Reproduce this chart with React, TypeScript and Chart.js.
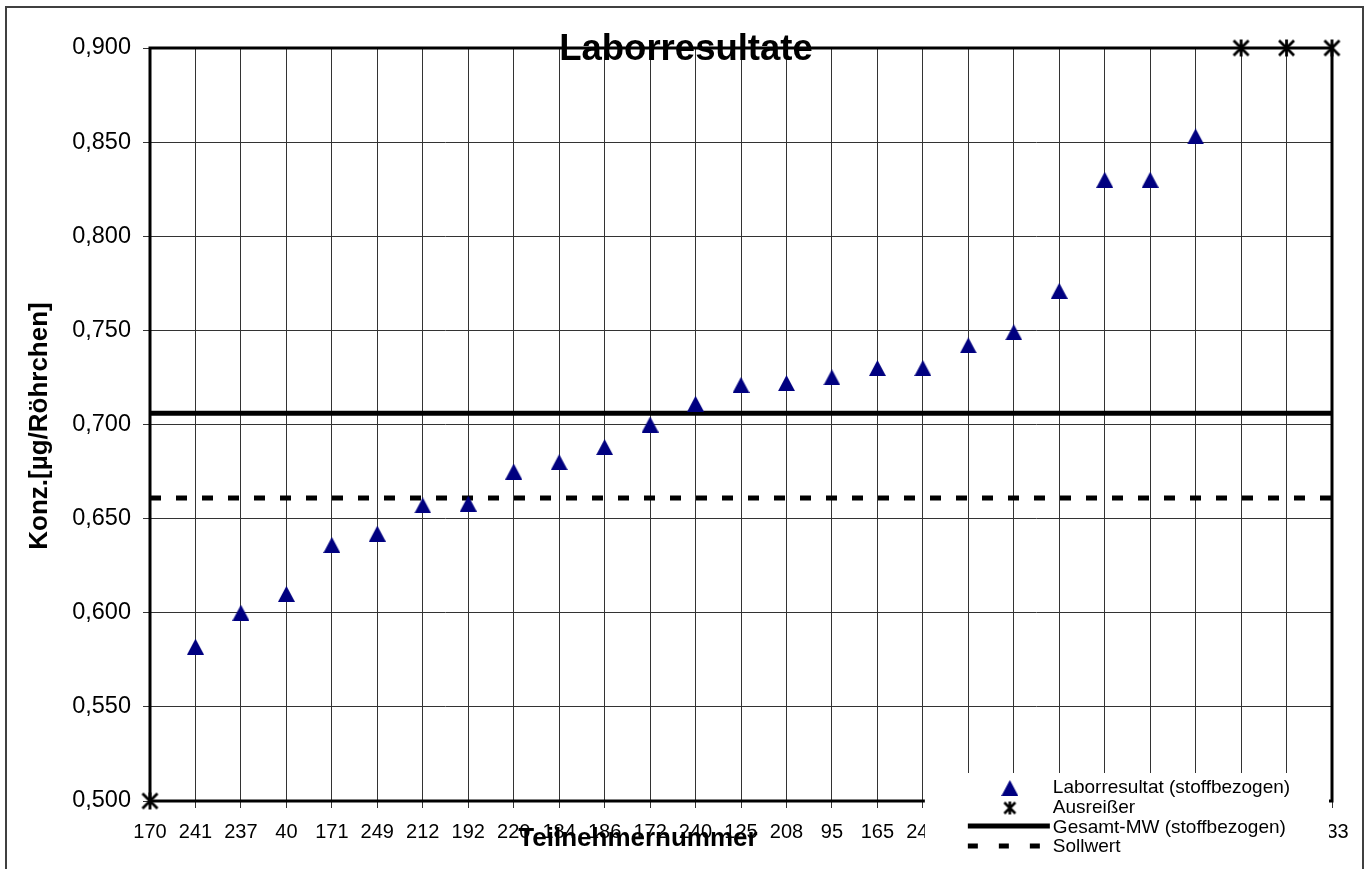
import { useEffect, useRef } from "react";
import { Chart, registerables } from "chart.js";

Chart.register(...registerables);

// ---- data ----
const participants = [
  "170", "241", "237", "40", "171", "249", "212", "192", "220", "184",
  "186", "172", "240", "125", "208", "95", "165", "243", "201", "118",
  "229", "156", "137", "210", "161", "247", "233",
];

const labResults: (number | null)[] = [
  null, 0.582, 0.6, 0.61, 0.636, 0.642, 0.657, 0.658, 0.675, 0.68,
  0.688, 0.7, 0.711, 0.721, 0.722, 0.725, 0.73, 0.73, 0.742, 0.749,
  0.771, 0.83, 0.83, 0.853, null, null, null,
];

const outliers: (number | null)[] = [
  0.5, null, null, null, null, null, null, null, null, null,
  null, null, null, null, null, null, null, null, null, null,
  null, null, null, null, 0.9, 0.9, 0.9,
];

const overallMean = 0.706;
const targetValue = 0.661;

const yMin = 0.5;
const yMax = 0.9;
const yStep = 0.05;

const chartTitle = "Laborresultate";
const xTitle = "Teilnehmernummer";
const yTitle = "Konz.[µg/Röhrchen]";
const legendLabels = [
  "Laborresultat (stoffbezogen)",
  "Ausreißer",
  "Gesamt-MW (stoffbezogen)",
  "Sollwert",
];

const NAVY = "#000080";
const FONT = "'Liberation Sans', Arial, Helvetica, sans-serif";

function makeTriangle(w: number, h: number, color: string) {
  const c = document.createElement("canvas");
  c.width = w;
  c.height = h;
  const g = c.getContext("2d")!;
  g.fillStyle = color;
  g.beginPath();
  g.moveTo(w / 2, 0);
  g.lineTo(w, h);
  g.lineTo(0, h);
  g.closePath();
  g.fill();
  return c;
}

function makeStar(size: number, lw: number, m: number) {
  const c = document.createElement("canvas");
  c.width = size;
  c.height = size;
  const g = c.getContext("2d")!;
  g.strokeStyle = "#000";
  g.lineWidth = lw;
  g.beginPath();
  g.moveTo(m, m);
  g.lineTo(size - m, size - m);
  g.moveTo(m, size - m);
  g.lineTo(size - m, m);
  g.moveTo(size / 2, m - 1);
  g.lineTo(size / 2, size - m + 1);
  g.stroke();
  return c;
}

export default function App() {
  const ref = useRef<HTMLCanvasElement>(null);

  useEffect(() => {
    const canvas = ref.current!;
    const tri = makeTriangle(17, 16, NAVY);
    const star = makeStar(19, 2.8, 2);
    const starSmall = makeStar(15, 2.6, 2);

    const decor = {
      id: "decor",
      beforeDatasetsDraw(chart: any) {
        const { ctx, chartArea: a } = chart;
        ctx.save();
        ctx.strokeStyle = "#000";
        ctx.lineWidth = 3;
        ctx.strokeRect(a.left, a.top, a.right - a.left, a.bottom - a.top);
        ctx.restore();
      },
      afterDraw(chart: any) {
        const { ctx, chartArea: a } = chart;
        const xs = chart.scales.x;
        ctx.save();

        // outer frame
        ctx.strokeStyle = "#404040";
        ctx.lineWidth = 2;
        ctx.strokeRect(6, 7, chart.width - 14, chart.height + 40);

        // legend box
        const bl = xs.getPixelForTick(17) + 2;
        const br = a.right - 3;
        const bt = a.bottom - 28;
        ctx.fillStyle = "#fff";
        ctx.fillRect(bl, bt, br - bl, chart.height - bt);

        const symX = bl + 85;
        const textX = bl + 128;
        const rows = [bt + 15, bt + 35, bt + 55, bt + 74];
        ctx.drawImage(tri, symX - tri.width / 2, rows[0] - tri.height / 2);
        ctx.drawImage(starSmall, symX - starSmall.width / 2, rows[1] - starSmall.height / 2);
        ctx.strokeStyle = "#000";
        ctx.lineWidth = 5;
        ctx.beginPath();
        ctx.moveTo(bl + 43, rows[2] - 2);
        ctx.lineTo(bl + 125, rows[2] - 2);
        ctx.stroke();
        ctx.setLineDash([10, 21]);
        ctx.beginPath();
        ctx.moveTo(bl + 43, rows[3] - 1);
        ctx.lineTo(bl + 125, rows[3] - 1);
        ctx.stroke();
        ctx.setLineDash([]);

        ctx.fillStyle = "#000";
        ctx.font = `19px ${FONT}`;
        ctx.textAlign = "left";
        ctx.textBaseline = "middle";
        legendLabels.forEach((t, i) => ctx.fillText(t, textX, rows[i]));

        // titles
        ctx.textAlign = "center";
        ctx.font = `bold 36.5px ${FONT}`;
        ctx.fillText(chartTitle, 686, 50);

        ctx.font = `bold 26px ${FONT}`;
        ctx.fillText(xTitle, 638, 839);

        ctx.save();
        ctx.translate(40, 426);
        ctx.rotate(-Math.PI / 2);
        ctx.fillText(yTitle, 0, 0);
        ctx.restore();

        ctx.restore();
      },
    };

    const chart = new Chart(canvas, {
      type: "line",
      data: {
        labels: participants,
        datasets: [
          {
            label: legendLabels[0],
            data: labResults,
            showLine: false,
            pointStyle: tri as any,
            pointRadius: 8,
            clip: false as any,
          },
          {
            label: legendLabels[1],
            data: outliers,
            showLine: false,
            pointStyle: star as any,
            pointRadius: 8,
            clip: false as any,
          },
          {
            label: legendLabels[2],
            data: participants.map(() => overallMean),
            borderColor: "#000",
            borderWidth: 5,
            pointRadius: 0,
            borderCapStyle: "butt",
          },
          {
            label: legendLabels[3],
            data: participants.map(() => targetValue),
            borderColor: "#000",
            borderWidth: 5,
            borderDash: [11, 15],
            pointRadius: 0,
            borderCapStyle: "butt",
          },
        ],
      },
      options: {
        responsive: false,
        devicePixelRatio: 1,
        animation: false,
        events: [],
        layout: { padding: { top: 48, right: 39, left: 0, bottom: 0 } },
        plugins: {
          legend: { display: false },
          title: { display: false },
          tooltip: { enabled: false },
        },
        scales: {
          x: {
            type: "category",
            offset: false,
            grid: {
              color: "#333",
              lineWidth: 1,
              tickLength: 7,
              tickColor: "#333",
              offset: false,
            },
            border: { display: false },
            ticks: {
              autoSkip: false,
              maxRotation: 0,
              minRotation: 0,
              padding: 12,
              color: "#000",
              font: { family: FONT, size: 20 },
            },
            afterFit(scale: any) {
              scale.height = 68;
            },
          },
          y: {
            min: yMin,
            max: yMax,
            grid: {
              color: "#333",
              lineWidth: 1,
              tickLength: 7,
              tickColor: "#333",
            },
            border: { display: false },
            ticks: {
              stepSize: yStep,
              padding: 12,
              color: "#000",
              font: { family: FONT, size: 23.5 },
              callback: (v: any) => Number(v).toFixed(3).replace(".", ","),
            },
            afterFit(scale: any) {
              scale.width = 150;
            },
          },
        },
      },
      plugins: [decor],
    });

    return () => chart.destroy();
  }, []);

  return (
    <div style={{ position: "absolute", left: 0, top: 0, width: 1371, height: 869, background: "#fff" }}>
      <canvas ref={ref} width={1371} height={869} style={{ display: "block" }} />
    </div>
  );
}
